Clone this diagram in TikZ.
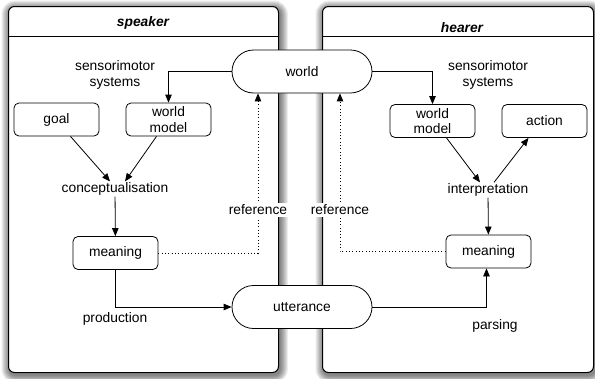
\documentclass[tikz,border=0pt]{standalone}
\usepackage{fontspec}
\setmainfont{Liberation Sans}
\usetikzlibrary{arrows.meta}
\begin{document}
\begin{tikzpicture}[x=1pt,y=-1pt,
  font=\fontsize{13.8}{15.5}\selectfont,
  panel/.style={draw, line width=1pt, rounded corners=6pt, fill=white, inner sep=0pt},
  box/.style={draw, line width=0.8pt, rounded corners=5pt, minimum width=85pt, minimum height=33pt,
    align=center, inner sep=1pt, fill=white},
  pill/.style={draw, line width=0.8pt, rounded corners=21.5pt, minimum width=140pt, minimum height=43pt,
    fill=white},
  arr/.style={-{Triangle[length=8pt,width=6.5pt]}, line width=0.8pt},
  dotarr/.style={-{Triangle[length=8pt,width=6.5pt]}, line width=0.9pt, dash pattern=on 0.9pt off 2.4pt},
  lbl/.style={align=center, inner sep=1pt},
  reflbl/.style={align=center, inner sep=1.5pt, fill=white},
  shade/.style={fill=black, opacity=0.075},
  title/.style={font=\fontsize{13.8}{15.5}\selectfont\bfseries\itshape}]
\useasboundingbox (0,0) rectangle (595,378);
% panel frames (invisible guides for shadows)
\node[inner sep=0pt, minimum width=270pt, minimum height=366pt, anchor=north west] (spkg) at (8,6) {};
\node[inner sep=0pt, minimum width=271pt, minimum height=366pt, anchor=north west] (hrrg) at (322,6) {};
% blurred shadows
\foreach \s in {1,...,8}{
  \fill[shade, rounded corners=6pt+\s pt]
    ([xshift=-\s pt+1.5pt, yshift=\s pt-2.5pt]spkg.north west) rectangle ([xshift=\s pt+1.5pt, yshift=-\s pt-2.5pt]spkg.south east);
  \fill[shade, rounded corners=6pt+\s pt]
    ([xshift=-\s pt+1.5pt, yshift=\s pt-2.5pt]hrrg.north west) rectangle ([xshift=\s pt+1.5pt, yshift=-\s pt-2.5pt]hrrg.south east);
}
% panels
\node[panel, minimum width=270pt, minimum height=366pt, anchor=north west] (spk) at (8,6) {};
\node[panel, minimum width=271pt, minimum height=366pt, anchor=north west] (hrr) at (322,6) {};
\draw[line width=0.8pt] ([yshift=-30pt]spk.north west) -- ([yshift=-30pt]spk.north east);
\draw[line width=0.8pt] ([yshift=-30pt]hrr.north west) -- ([yshift=-30pt]hrr.north east);
\node[title] (spkt) at (143,23) {speaker};
\node[title] (hrrt) at (462,28) {hearer};
% shared nodes
\node[pill] (world) at (302,71.5) {world};
\node[pill] (utt) at (302,307) {utterance};
% speaker
\node[lbl] (ssens) at (115,75) {sensorimotor\\systems};
\node[box] (sgoal) at (56.5,119.5) {goal};
\node[box] (swm) at (168.5,119.5) {world\\model};
\node[lbl] (sconc) at (115,189) {conceptualisation};
\node[box] (smean) at (115.5,253) {meaning};
\node[lbl] (sprod) at (115,319) {production};
% hearer
\node[lbl] (hsens) at (488,75) {sensorimotor\\systems};
\node[box] (hwm) at (432.5,121) {world\\model};
\node[box] (hact) at (544.5,121) {action};
\node[lbl] (hint) at (488,190) {interpretation};
\node[box] (hmean) at (488.5,251.5) {meaning};
\node[lbl] (hpars) at (495,326) {parsing};
% connectors
\draw[arr] (world.west) -| (swm.north);
\draw[arr] (world.east) -| (hwm.north);
\draw[arr] ([xshift=14pt]sgoal.south) -- ([xshift=-5pt]sconc.north);
\draw[arr] ([xshift=-12pt]swm.south) -- ([xshift=10pt]sconc.north);
\draw[arr] (sconc) -- (smean);
\draw[dotarr] (smean.east) -| ([xshift=-44pt]world.south);
\draw[arr] (smean.south) |- (utt.west);
\draw[arr] ([xshift=14pt]hwm.south) -- ([xshift=-8pt]hint.north);
\draw[arr] ([xshift=6pt]hint.north) -- ([xshift=-16pt]hact.south);
\draw[arr] (hint) -- (hmean);
\draw[dotarr] (hmean.west) -| ([xshift=38pt]world.south);
\draw[arr] (utt.east) -| ([xshift=-2pt]hmean.south);
\node[reflbl] (sref) at (258,210) {reference};
\node[reflbl] (href) at (340,210) {reference};
\end{tikzpicture}
\end{document}
